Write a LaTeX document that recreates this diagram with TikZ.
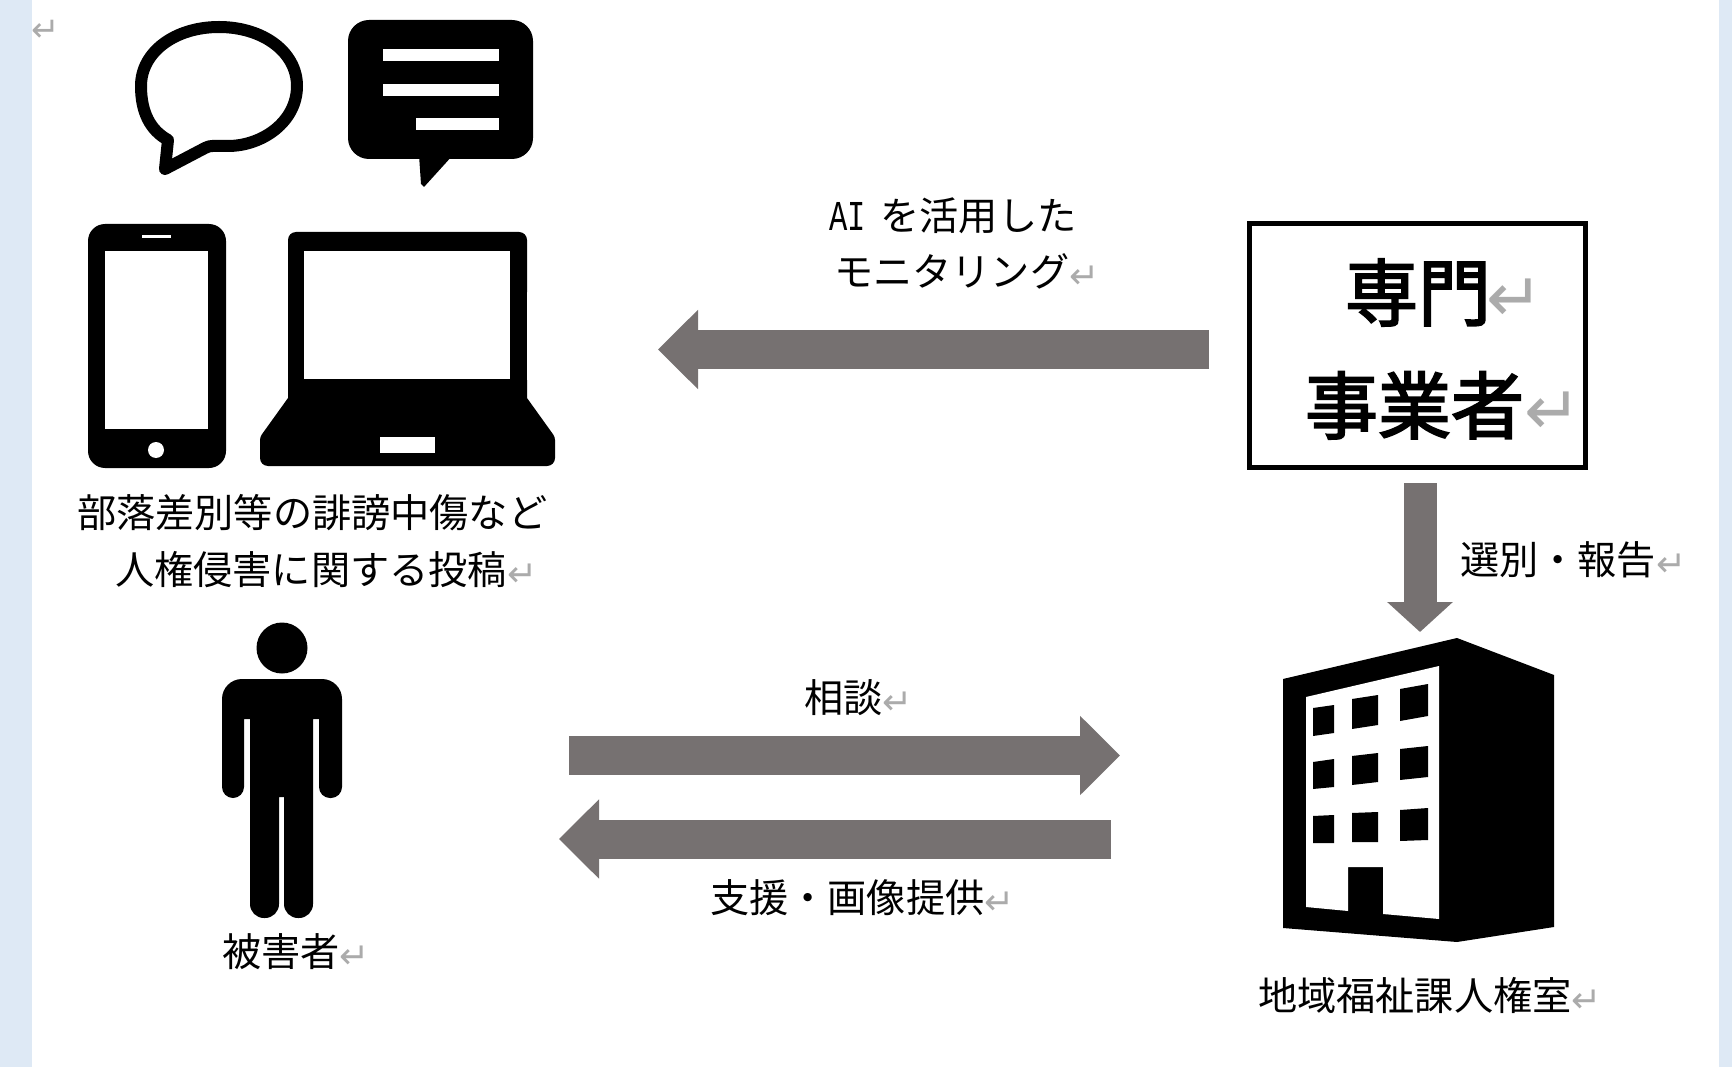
\documentclass[tikz,border=0pt]{standalone}
\usepackage{fontspec}
\usepackage{xcolor}
\usepackage{graphicx}
\usetikzlibrary{arrows.meta}
\setmainfont{Noto Sans CJK JP}
\newfontfamily\boxfont[FakeBold=2.6]{Noto Sans CJK JP}
\newfontfamily\dejavufont{DejaVu Sans}
\newfontfamily\latinmono{Liberation Mono}
\definecolor{bandblue}{HTML}{DEE9F5}
\definecolor{arrowgray}{HTML}{767171}
\definecolor{retgray}{HTML}{ABABAB}
\newcommand{\retmark}[1]{{\color{retgray}\dejavufont\fontsize{#1}{#1}\selectfont ↵}}
\tikzset{
  label text/.style={anchor=base west,inner sep=0pt,outer sep=0pt,font=\fontsize{39.2}{39.2}\selectfont},
  big text/.style={anchor=base west,inner sep=0pt,outer sep=0pt,font=\fontsize{73}{73}\selectfont\boxfont},
  blockarrow/.style={draw=arrowgray,line width=39pt,-{Triangle[length=40pt,width=77pt,fill=arrowgray]}},
  icon/.style={fill=black},
  hole/.style={fill=white},
}
\begin{document}
\begin{tikzpicture}[x=1pt,y=-1pt]
\useasboundingbox (0,0) rectangle (1732,1067);
\fill[white] (0,0) rectangle (1732,1067);
\fill[bandblue] (0,0) rectangle (32,1067);
\fill[bandblue] (1719,0) rectangle (1732,1067);
\node[anchor=base west,inner sep=0pt] (topmark) at (31,42) {\retmark{34}};

% speech bubble outline
\draw[line width=12pt,line join=round,black]
  (168,140) .. controls (150,130) and (141,112) .. (141,86)
  .. controls (141,52) and (175,27) .. (219,27)
  .. controls (263,27) and (297,52) .. (297,86)
  .. controls (297,122) and (262,146) .. (228,146)
  .. controls (215,146) and (210,145) .. (205,148)
  -- (165,169) -- cycle;
% chat box
\fill[icon,rounded corners=21pt] (348,20) rectangle (533,159);
\fill[icon,line join=round] (419,155) -- (421,184) -- (424,187) -- (453,155) -- cycle;
\fill[hole] (383,49) rectangle (499,61);
\fill[hole] (383,84) rectangle (499,96);
\fill[hole] (416,118) rectangle (499,130);
% phone
\fill[icon,rounded corners=17pt] (88,224) rectangle (226,468);
\fill[hole] (105,251) rectangle (208,429);
\fill[hole] (142,235) rectangle (171,238);
\fill[hole] (156,450) circle[radius=8pt];
% laptop
\fill[icon,rounded corners=8pt] (288,300) -- (288,232) -- (527,232) -- (527,300) -- cycle;
\fill[icon] (288,260) rectangle (527,400);
\fill[icon] (288,380) -- (527,380) -- (527,398) [rounded corners=3pt] -- (555,437) [rounded corners=8pt] -- (555,466) -- (260,466) [rounded corners=3pt] -- (260,437) [sharp corners] -- (288,398) -- cycle;
\fill[hole] (304,251) rectangle (510,379);
\fill[hole] (380,437) rectangle (435,453);
% person
\fill[icon] (282,648) circle[radius=25.5pt];
\fill[icon] (222,740) [rounded corners=20pt] -- (222,679) -- (342,679) -- (342,740) [rounded corners=11pt] -- (342,798) -- (319,798) [sharp corners] -- (319,719) -- (313,719) [rounded corners=14pt] -- (313,918) -- (284,918) [sharp corners] -- (284,797) -- (279,797) [rounded corners=14pt] -- (279,918) -- (250,918) [sharp corners] -- (250,719) -- (244,719) [rounded corners=11pt] -- (244,798) -- (222,798) [sharp corners] -- cycle;
% building
\fill[icon] (1283,679) -- (1457,638) -- (1554,675) -- (1554,927) -- (1457,942) -- (1283,928) -- cycle;
\fill[hole] (1306,697) -- (1439,666) -- (1439,919) -- (1383,914) -- (1383,867) -- (1348,867) -- (1348,911) -- (1306,907) -- cycle;
\fill[icon] (1313,708) -- (1334,705) -- (1334,733) -- (1313,736) -- cycle;
\fill[icon] (1352,699) -- (1378,695) -- (1378,725) -- (1352,729) -- cycle;
\fill[icon] (1400,689) -- (1428,684) -- (1428,716) -- (1400,721) -- cycle;
\fill[icon] (1313,762) -- (1334,759) -- (1334,787) -- (1313,789) -- cycle;
\fill[icon] (1352,756) -- (1378,753) -- (1378,782) -- (1352,785) -- cycle;
\fill[icon] (1400,749) -- (1428,746) -- (1428,777) -- (1400,780) -- cycle;
\fill[icon] (1313,816) -- (1334,815) -- (1334,843) -- (1313,843) -- cycle;
\fill[icon] (1352,813) -- (1378,812) -- (1378,842) -- (1352,842) -- cycle;
\fill[icon] (1400,810) -- (1428,808) -- (1428,840) -- (1400,841) -- cycle;

% provider box
\node[draw=black,line width=5pt,minimum width=336pt,minimum height=244pt,inner sep=0pt] (provider) at (1417.5,345.5) {};
\node[big text] (providerA) at (1345,320) {専門\kern-5pt\raisebox{-1pt}{\retmark{68}}};
\node[big text] (providerB) at (1305,433) {事業者\raisebox{-1pt}{\retmark{68}}};

% labels
\node[label text] (posts) at (77,527) {部落差別等の誹謗中傷など};
\node[label text] (postsB) at (115,584) {人権侵害に関する投稿\raisebox{-2pt}{\retmark{36}}};
\node[label text] (victim) at (222,966) {被害者\raisebox{-2pt}{\retmark{36}}};
\node[label text] (office) at (1258,1010) {地域福祉課人権室\raisebox{-2pt}{\retmark{36}}};
\node[label text] (monitor) at (829,231) {{\latinmono\fontsize{32}{32}\selectfont\scalebox{0.95}[1.33]{AI}}\hspace{15pt}を活用した};
\node[label text] (monitorB) at (834,287) {モニタリング\raisebox{-2pt}{\retmark{36}}};
\node[label text] (select) at (1460,574) {選別・報告\raisebox{-2pt}{\retmark{36}}};
\node[label text] (consult) at (804,712) {相談\raisebox{-2pt}{\retmark{36}}};
\node[label text] (support) at (710,912) {支援・画像提供\raisebox{-2pt}{\retmark{36}}};

% connectors
\coordinate (mStart) at (1209,349.5);
\coordinate (mEnd) at (658,349.5);
\coordinate (sStart) at (1420,483);
\coordinate (sEnd) at (1420,632);
\coordinate (cStart) at (569,755.5);
\coordinate (cEnd) at (1120,755.5);
\coordinate (hStart) at (1111,839);
\coordinate (hEnd) at (559,839);
\draw[blockarrow] (mStart) -- (mEnd);
\draw[blockarrow,line width=33pt,-{Triangle[length=30pt,width=64pt,fill=arrowgray]}] (sStart) -- (sEnd);
\draw[blockarrow] (cStart) -- (cEnd);
\draw[blockarrow] (hStart) -- (hEnd);
\end{tikzpicture}
\end{document}
